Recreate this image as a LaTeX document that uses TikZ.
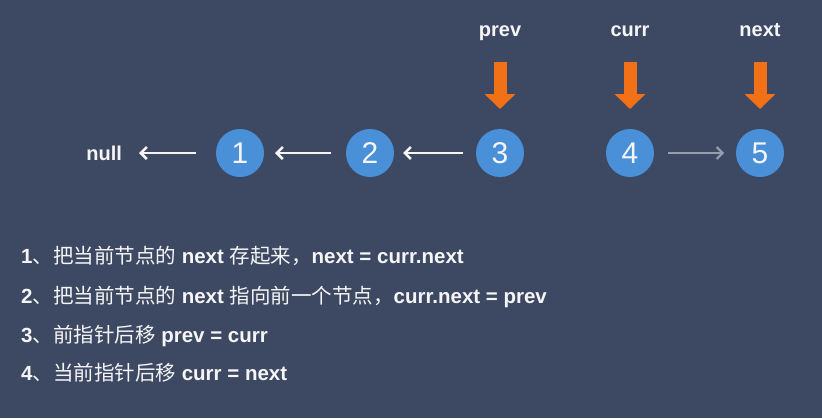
\documentclass[tikz,border=0pt]{standalone}
\usepackage{fontspec}
\setmainfont{Liberation Sans}
\newfontfamily\cjk{Noto Sans CJK SC}
\usetikzlibrary{arrows.meta,positioning}
\definecolor{slate}{RGB}{61,73,99}
\definecolor{ballblue}{RGB}{74,144,217}
\definecolor{ptrorange}{RGB}{242,112,22}
\definecolor{linkgray}{RGB}{150,158,172}
\definecolor{ink}{RGB}{245,245,245}
\newcommand{\zh}[1]{{\mdseries\cjk #1}}
\tikzset{ball/.style={circle, fill=ballblue, text=ink, minimum size=48pt, inner sep=0pt, outer sep=0pt,
 font=\fontsize{30}{30}\selectfont}}
\tikzset{tag/.style={text=ink, inner sep=0pt, outer sep=0pt, text height=11pt, text depth=4pt,
 font=\bfseries\fontsize{20}{24}\selectfont}}
\tikzset{stepline/.style={text=ink, inner sep=0pt, anchor=base west,
 font=\bfseries\fontsize{20.5}{24}\selectfont}}
\tikzset{link/.style={draw=ink, line width=2.5pt, -{Straight Barb[length=6pt,width=12pt]},
 shorten <=15pt, shorten >=11pt}}
\tikzset{ptr/.style={draw=ptrorange, line width=13pt, -{Triangle[length=15pt,width=30pt]},
 shorten <=25pt, shorten >=20pt}}

\begin{document}
\begin{tikzpicture}[x=1pt, y=-1pt, node distance=82pt]
        \fill[slate] (0,0) rectangle (822,418);
        \useasboundingbox (0,0) rectangle (822,418);

        % list nodes
        \node[ball] (n1) at (240,153) {1};
        \node[ball, right=of n1] (n2) {2};
        \node[ball, right=of n2] (n3) {3};
        \node[ball, right=of n3] (n4) {4};
        \node[ball, right=of n4] (n5) {5};
        \node[tag, text height=14pt, text depth=0pt, left=94pt of n1] (nl) {null};

        % pointers
        \foreach \n/\t in {3/prev,4/curr,5/next}{
          \node[tag, above=89pt of n\n] (t\n) {\t};
          \path[ptr, shorten <=22pt] (t\n) -- (n\n);
        }

        \path[link, shorten <=20pt, shorten >=17pt] (n1) -- (nl);
        \path[link] (n2) -- (n1);
        \path[link, shorten <=13pt, shorten >=9pt] (n3) -- (n2);
        \path[link, draw=linkgray, line width=2pt, shorten <=14pt, shorten >=12pt] (n4) -- (n5);

        % steps
        \node[stepline] (s1) at (21,263) {1\zh{、把当前节点的} next \zh{存起来，}next = curr.next};
        \node[stepline] (s2) at (21,303) {2\zh{、把当前节点的} next \zh{指向前一个节点，}curr.next = prev};
        \node[stepline] (s3) at (21,342) {3\zh{、前指针后移} prev = curr};
        \node[stepline] (s4) at (21,380) {4\zh{、当前指针后移} curr = next};
      \end{tikzpicture}
\end{document}
